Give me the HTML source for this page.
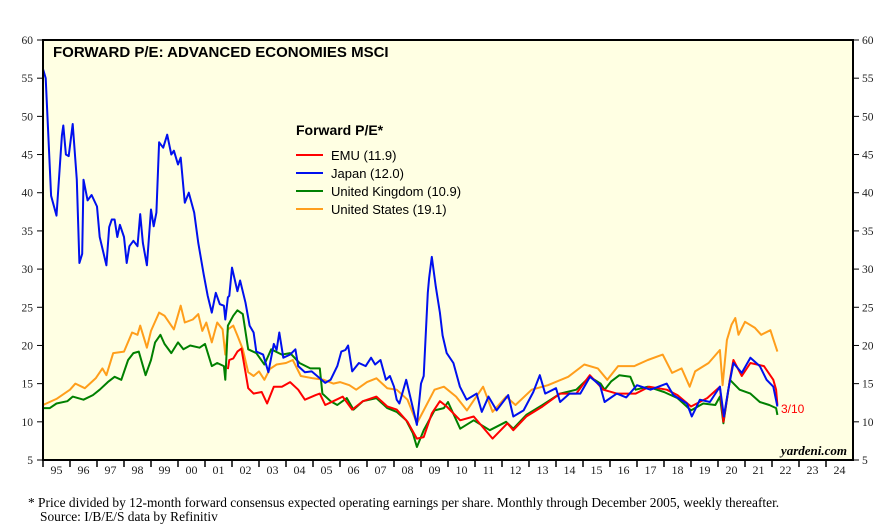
<!DOCTYPE html>
<html><head><meta charset="utf-8"><style>
body{margin:0;background:#fff;width:887px;height:524px;overflow:hidden}
svg{display:block}
</style></head><body>
<svg id="chart" width="887" height="524" xmlns="http://www.w3.org/2000/svg"></svg>
<script>
const yTicks=[5,10,15,20,25,30,35,40,45,50,55,60];
const yearLabels=["95","96","97","98","99","00","01","02","03","04","05","06","07","08","09","10","11","12","13","14","15","16","17","18","19","20","21","22","23","24"];
const japanT=[1995.0,1995.1,1995.3,1995.5,1995.7,1995.75,1995.85,1995.95,1996.1,1996.25,1996.35,1996.45,1996.5,1996.65,1996.8,1997.0,1997.1,1997.35,1997.45,1997.55,1997.65,1997.75,1997.85,1998.0,1998.1,1998.2,1998.35,1998.5,1998.6,1998.7,1998.85,1999.0,1999.1,1999.2,1999.3,1999.45,1999.6,1999.75,1999.85,2000.0,2000.1,2000.25,2000.4,2000.6,2000.75,2000.95,2001.1,2001.25,2001.4,2001.55,2001.7,2001.75,2001.85,2001.9,2002.0,2002.2,2002.3,2002.5,2002.65,2002.8,2002.9,2003.15,2003.35,2003.55,2003.65,2003.75,2003.9,2004.15,2004.35,2004.45,2004.7,2004.95,2005.25,2005.45,2005.65,2005.9,2006.05,2006.2,2006.3,2006.45,2006.7,2006.95,2007.15,2007.3,2007.5,2007.7,2007.85,2008.0,2008.1,2008.2,2008.45,2008.6,2008.85,2009.0,2009.1,2009.25,2009.3,2009.4,2009.55,2009.7,2009.8,2009.95,2010.2,2010.44,2010.69,2011.06,2011.25,2011.5,2011.8,2012.23,2012.42,2012.8,2013.16,2013.4,2013.6,2014.0,2014.15,2014.5,2014.9,2015.26,2015.63,2015.8,2016.25,2016.6,2017.0,2017.5,2018.1,2018.35,2018.85,2019.03,2019.33,2019.7,2020.07,2020.22,2020.38,2020.57,2020.88,2021.2,2021.55,2021.8,2022.05,2022.2];
const japanV=[56.2,55,39.6,37,47.5,48.8,45,44.8,49,41.7,30.8,32,41.7,39,39.7,38.2,34.2,30.5,35.5,36.5,36.5,34.2,35.8,34.2,30.8,33,33.7,33,37.2,33.4,30.5,37.8,35.6,37.4,46.6,45.9,47.6,45,45.5,43.7,44.6,38.7,40,37.4,33.4,29.3,26.5,24.3,26.9,25.4,25.2,23.4,26.3,26.5,30.2,27.1,28.5,25.6,22.6,21.7,19.2,18.8,16.5,20.2,19.4,21.7,18.4,18.8,19.5,17.3,16.5,16.6,15.7,15.1,15.5,17.3,19.2,19.4,20,16.6,17.7,17.3,18.4,17.5,18.1,15.5,16,14.6,12.9,12.4,15.5,13.3,9.6,15,16,26.9,28.8,31.6,27.7,24.3,21.3,19,17.7,14.6,12.9,13.7,11.3,13.3,11.5,13.5,10.7,11.5,13.9,16.1,13.7,14.4,12.6,13.7,13.7,15.9,14.8,12.6,13.7,13.2,14.8,14.2,15,13.5,12.4,10.7,12.9,12.6,14.6,10.7,14.2,17.7,16.4,18.4,17.3,15.5,14.6,12];
const usT=[1995.0,1995.5,1996.0,1996.2,1996.55,1996.95,1997.2,1997.35,1997.6,1998.0,1998.3,1998.5,1998.6,1998.85,1999.0,1999.3,1999.5,1999.85,2000.1,2000.25,2000.55,2000.75,2000.9,2001.05,2001.25,2001.45,2001.65,2001.75,2001.85,2002.05,2002.2,2002.4,2002.6,2002.8,2003.0,2003.2,2003.4,2003.65,2004.0,2004.25,2004.55,2005.0,2005.4,2005.75,2006.0,2006.35,2006.6,2007.0,2007.35,2007.75,2008.1,2008.5,2008.85,2009.1,2009.5,2009.85,2010.3,2010.7,2011.3,2011.65,2012.15,2012.5,2013.1,2013.7,2014.45,2015.05,2015.55,2015.9,2016.3,2016.9,2017.4,2017.95,2018.3,2018.65,2018.95,2019.15,2019.65,2020.07,2020.17,2020.33,2020.5,2020.64,2020.76,2021.0,2021.37,2021.6,2021.94,2022.06,2022.2];
const usV=[12.2,13,14.2,15,14.4,15.7,17,16.1,19,19.2,21.7,21.4,22.6,19.7,21.9,24.3,23.9,22.1,25.2,23,23.4,24.1,21.9,23,20.4,23,22.1,18.8,22.1,22.6,21.3,19.5,16.5,16,16.6,15.5,16.9,17.5,17.7,18.1,16,15.7,15.5,15,15.2,14.8,14.2,15.2,15.7,14.4,14.2,12.9,9.8,11.5,14.2,14.6,13.3,11.5,14.6,11.3,13.3,12.2,14.2,14.8,15.9,17.5,17,15.5,17.3,17.3,18.1,18.8,16.4,17,14.6,16.6,17.7,19.4,14.8,20.7,22.7,23.6,21.4,23.1,22.3,21.4,22,20.7,19.2];
const ukT=[1995.0,1995.25,1995.5,1995.9,1996.1,1996.5,1996.85,1997.1,1997.4,1997.65,1997.9,1998.15,1998.35,1998.55,1998.8,1999.0,1999.15,1999.35,1999.5,1999.75,2000.0,2000.2,2000.45,2000.8,2001.0,2001.25,2001.45,2001.7,2001.75,2001.85,2002.05,2002.2,2002.4,2002.6,2002.9,2003.2,2003.45,2003.85,2004.15,2004.5,2004.9,2005.25,2005.35,2005.65,2005.9,2006.25,2006.5,2006.85,2007.35,2007.75,2008.1,2008.45,2008.7,2008.85,2009.1,2009.5,2009.85,2010.0,2010.45,2010.95,2011.55,2012.15,2012.42,2012.9,2013.5,2014.15,2014.75,2015.25,2015.65,2015.8,2016.05,2016.35,2016.75,2016.95,2017.4,2018.0,2018.5,2019.0,2019.45,2019.9,2020.07,2020.2,2020.44,2020.8,2021.2,2021.55,2021.9,2022.15,2022.2];
const ukV=[11.8,11.8,12.4,12.7,13.3,12.9,13.5,14.2,15.2,15.9,15.5,18.1,19,19.2,16.1,18.1,20.4,21.4,20.2,19,20.4,19.5,20,19.7,20.2,17.3,17.7,17.3,15.5,22.6,23.9,24.6,24.1,19.5,19,17.5,19.5,18.8,19,17.7,17,17,13.7,12.7,12.2,13.1,11.6,12.7,13.1,11.8,11.3,10.2,8.5,6.7,8.9,11.5,11.8,12.6,9.1,10.2,8.9,10,9.1,10.9,12.2,13.7,14.2,15.9,15,14.2,15.3,16.1,15.9,14.2,14.6,13.9,13.1,11.5,12.4,12.2,13.3,9.8,15.5,14.2,13.7,12.6,12.2,11.8,10.9];
const emuT=[2001.85,2001.9,2002.05,2002.2,2002.35,2002.5,2002.6,2002.8,2003.1,2003.3,2003.55,2003.85,2004.15,2004.45,2004.7,2005.1,2005.25,2005.45,2005.75,2006.1,2006.45,2006.85,2007.35,2007.75,2008.1,2008.5,2008.85,2009.1,2009.4,2009.7,2009.95,2010.45,2010.95,2011.65,2012.2,2012.42,2012.9,2013.5,2014.15,2014.75,2015.25,2015.75,2016.25,2016.95,2017.45,2018.1,2018.5,2019.0,2019.6,2020.07,2020.2,2020.44,2020.57,2020.88,2021.2,2021.7,2022.05,2022.15,2022.2];
const emuV=[16.9,18.1,18.3,19.2,19.6,16.5,14.4,13.7,13.9,12.4,14.6,14.6,15.2,14.2,12.9,13.5,13.7,12.2,12.7,13.3,11.6,12.7,13.3,12,11.6,10,7.8,8,11.1,12.7,12,10.2,10.7,7.8,9.8,8.9,10.7,12,13.7,13.7,16.1,14.2,13.7,13.7,14.6,14.2,13.5,12,13.1,14.6,10,15.5,18.1,16,17.7,17.3,15.5,14.2,12.2];

const L=43,R=853,T=40,B=460;
const x=t=>L+(t-1995)*(R-L)/30;
const y=v=>B-(v-5)*(B-T)/55;
const NS="http://www.w3.org/2000/svg";
const svg=document.getElementById('chart');
function mk(tag,attrs,parent){const e=document.createElementNS(NS,tag);for(const k in attrs)e.setAttribute(k,attrs[k]);(parent||svg).appendChild(e);return e;}

const bg=mk('rect',{x:L,y:T,width:R-L,height:B-T,fill:'#ffffe3'});



yTicks.forEach(v=>{
  const yy=y(v);
  mk('line',{x1:L-6,x2:L,y1:yy,y2:yy,stroke:'#000','stroke-width':1});
  mk('line',{x1:R,x2:R+6,y1:yy,y2:yy,stroke:'#000','stroke-width':1});
  const tl=mk('text',{x:L-10,y:yy+4,'text-anchor':'end','font-family':'Liberation Serif, serif','font-size':11.5,fill:'#222'});
  tl.textContent=v;
  
  
  const tr=mk('text',{x:R+9,y:yy+4,'font-family':'Liberation Serif, serif','font-size':11.5,fill:'#222'});
  tr.textContent=v;
  
  
});
yearLabels.forEach((lab,i)=>{
  const x0=x(1995+i);
  mk('line',{x1:x0,x2:x0,y1:B,y2:B+7,stroke:'#000','stroke-width':1.5});
  const t=mk('text',{x:x(1995.5+i),y:B+14,'text-anchor':'middle','font-family':'Liberation Serif, serif','font-size':12,fill:'#222'});
  t.textContent=lab;
  
  
});

function series(ts,vs,color,name){
  const d=ts.map((t,i)=>(i?'L':'M')+x(t).toFixed(1)+','+y(vs[i]).toFixed(1)).join('');
  const p=mk('path',{d:d,fill:'none',stroke:color,'stroke-width':2,'stroke-linejoin':'round'});
  
  
}
series(usT,usV,'#ff9e1b','us-line');
series(ukT,ukV,'#008000','uk-line');
series(emuT,emuV,'#ff0000','emu-line');
series(japanT,japanV,'#0010ee','japan-line');

const fr=mk('rect',{x:L,y:T,width:R-L,height:B-T,fill:'none',stroke:'#000','stroke-width':2});



const title=mk('text',{x:53,y:57,'font-family':'Liberation Sans, sans-serif','font-size':15,'font-weight':'bold',fill:'#000'});
title.textContent='FORWARD P/E: ADVANCED ECONOMIES MSCI';



const lt=mk('text',{x:296,y:135,'font-family':'Liberation Sans, sans-serif','font-size':14,'font-weight':'bold',fill:'#000'});
lt.textContent='Forward P/E*';


const legNames=['EMU (11.9)','Japan (12.0)','United Kingdom (10.9)','United States (19.1)'];
const legColors=['#ff0000','#0010ee','#008000','#ff9e1b'];
legNames.forEach((n,i)=>{
  const yy=155+i*18;
  const g=mk('g',{});
  
  
  mk('line',{x1:296,x2:323,y1:yy,y2:yy,stroke:legColors[i],'stroke-width':2},g);
  const t=mk('text',{x:331,y:yy+5,'font-family':'Liberation Sans, sans-serif','font-size':13,fill:'#000'},g);
  t.textContent=n;
});

const dl=mk('text',{x:781,y:413,'font-family':'Liberation Sans, sans-serif','font-size':12,fill:'#ff0000'});
dl.textContent='3/10';


const wm=mk('text',{x:847,y:455,'text-anchor':'end','font-family':'Liberation Serif, serif','font-size':13,'font-style':'italic','font-weight':'bold',fill:'#000'});
wm.textContent='yardeni.com';


const f1=mk('text',{x:28,y:507,'font-family':'Liberation Serif, serif','font-size':13.4,fill:'#000'});
f1.textContent='*  Price divided by 12-month forward consensus expected operating earnings per share. Monthly through December 2005, weekly thereafter.';


const f2=mk('text',{x:40,y:521,'font-family':'Liberation Serif, serif','font-size':13.4,fill:'#000'});
f2.textContent='Source: I/B/E/S data by Refinitiv';


</script>
</body></html>
